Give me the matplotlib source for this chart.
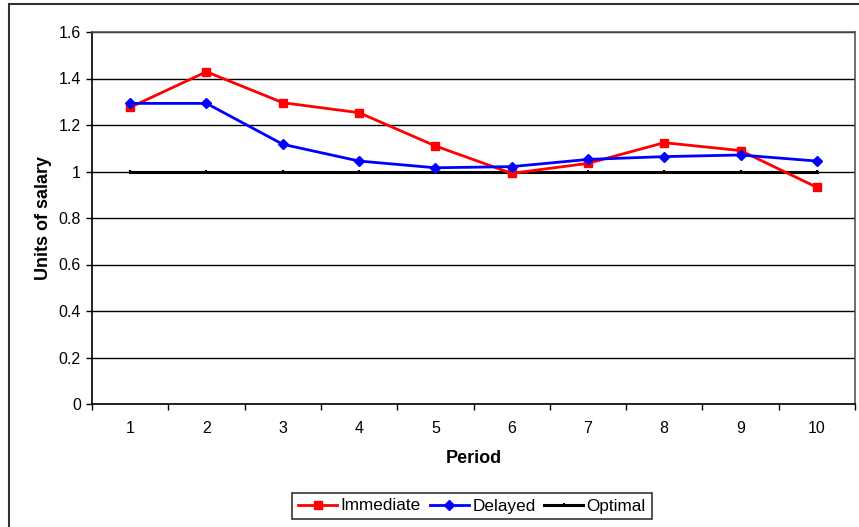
import numpy as np
import matplotlib
matplotlib.use("Agg")
import matplotlib.pyplot as plt
from matplotlib.patches import Rectangle

plt.rcParams['font.family'] = ['Liberation Sans', 'DejaVu Sans']

periods = [1, 2, 3, 4, 5, 6, 7, 8, 9, 10]
immediate = [1.276, 1.429, 1.296, 1.253, 1.110, 0.992, 1.035, 1.124, 1.090, 0.932]
delayed = [1.293, 1.293, 1.117, 1.045, 1.016, 1.021, 1.052, 1.064, 1.071, 1.045]
optimal = [1, 1, 1, 1, 1, 1, 1, 1, 1, 1]
yticks = [0, 0.2, 0.4, 0.6, 0.8, 1, 1.2, 1.4, 1.6]
ytick_labels = ['0', '0.2', '0.4', '0.6', '0.8', '1', '1.2', '1.4', '1.6']

fig = plt.figure(figsize=(8.59, 5.27), dpi=100)
# outer chart border
fig.patches.append(Rectangle((9/859, -0.05), 1.0, 1 - 4/527 + 0.05,
                             transform=fig.transFigure, fill=False,
                             edgecolor='#333333', linewidth=1.5))

ax = fig.add_axes([92/859, 1 - 404/527, 763/859, 372/527])

ax.plot(periods, immediate, color='#ff0000', linewidth=2, marker='s',
        markersize=6, label='Immediate', zorder=4)
ax.plot(periods, delayed, color='#0000ff', linewidth=2, marker='D',
        markersize=5, label='Delayed', zorder=5)
ax.plot(periods, optimal, color='black', linewidth=2.2, marker='|',
        markersize=3, markeredgewidth=1.5, label='Optimal', zorder=3)

ax.set_xlim(0.5, 10.5)
ax.set_ylim(0, 1.6)
ax.set_yticks(yticks)
ax.set_yticklabels(ytick_labels, fontsize=11.5)
ax.yaxis.grid(True, color='black', linewidth=1)
ax.set_axisbelow(True)

ax.set_xticks(periods)
ax.set_xticklabels([str(p) for p in periods], fontsize=11.5)
ax.set_xticks(np.arange(0.5, 11, 1), minor=True)
ax.tick_params(axis='x', which='major', length=0, pad=12)
ax.tick_params(axis='x', which='minor', length=4, width=1)
ax.tick_params(axis='y', length=4, width=1, pad=4)

for side in ['top', 'right']:
    ax.spines[side].set_color('#555555')
    ax.spines[side].set_linewidth(1.2)
for side in ['left', 'bottom']:
    ax.spines[side].set_color('black')
    ax.spines[side].set_linewidth(1.2)

ax.set_xlabel('Period', fontsize=13, fontweight='bold', labelpad=10)
ax.set_ylabel('Units of salary', fontsize=13, fontweight='bold', labelpad=5)

leg = ax.legend(loc='center', bbox_to_anchor=(472/859, 1 - 506/527),
                bbox_transform=fig.transFigure, ncol=3, fontsize=12.3,
                frameon=True, fancybox=False, edgecolor='black',
                handlelength=2.3, handletextpad=0.2, columnspacing=0.5,
                borderpad=0.35)
leg.get_frame().set_linewidth(1.2)

fig.savefig('out.png', dpi=100)
